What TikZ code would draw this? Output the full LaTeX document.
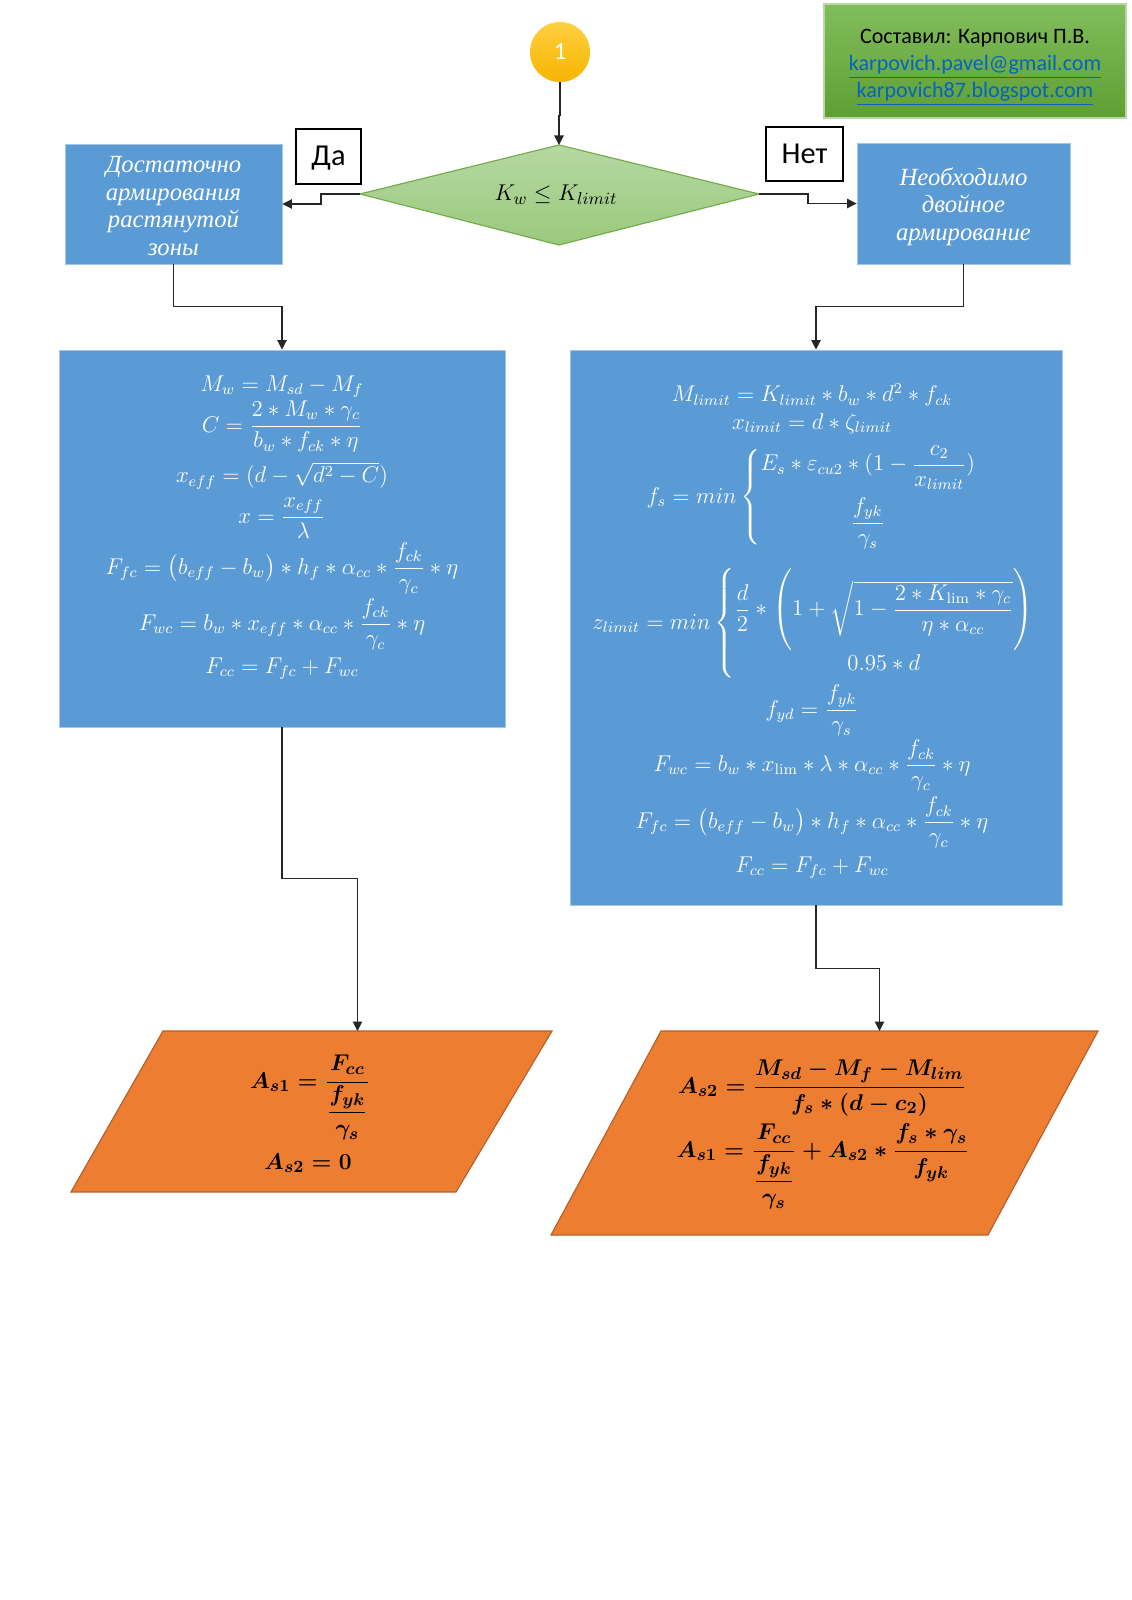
\documentclass[tikz,border=0pt]{standalone}
\usepackage{amsmath}
\usepackage{fontspec}
\newfontfamily\cyrserif{Liberation Serif}
\newfontfamily\calibri{Carlito}
\usetikzlibrary{arrows.meta,fit,calc}
\definecolor{oblue}{HTML}{5B9BD5}
\definecolor{obluebd}{HTML}{A4C6E8}
\definecolor{oorange}{HTML}{ED7D31}
\definecolor{oorangebd}{HTML}{B5602A}
\definecolor{dgtop}{HTML}{B6D8A3}
\definecolor{dgbot}{HTML}{9AC97C}
\definecolor{dgbd}{HTML}{70AD47}
\definecolor{agtop}{HTML}{82BD5C}
\definecolor{agbot}{HTML}{5E9F34}
\definecolor{agbd}{HTML}{B9D6A4}
\definecolor{ctop}{HTML}{FFD040}
\definecolor{cbot}{HTML}{F7B400}
\definecolor{linkblue}{HTML}{0563C1}
\definecolor{linecol}{HTML}{262626}
\begin{document}
\begin{tikzpicture}[x=0.5263pt,y=-0.5263pt,
  conn/.style={draw=linecol,line width=0.55pt,-{Triangle[length=5pt,width=5pt]}},
  bluebox/.style={inner sep=0pt,fill=oblue,draw=obluebd,line width=0.5pt},
  cyrtext/.style={text=white,align=center,inner sep=0pt,font=\cyrserif\itshape\fontsize{13}{14.5}\selectfont},
  labbox/.style={inner sep=0pt,fill=white,draw=black,line width=1pt},
  labtext/.style={inner sep=0pt,font=\calibri\fontsize{16}{18}\selectfont},
  fw/.style={text=white,font=\fontsize{12}{14}\selectfont,inner sep=0pt,anchor=base},
  fb/.style={text=black,font=\fontsize{13}{15}\selectfont\boldmath,inner sep=0pt,anchor=base}]
\fill[white] (0,0) rectangle (1131,1600);
\useasboundingbox (0,0) rectangle (1131,1600);

% author box
\node[fit={(824,4)(1126,118)},inner sep=0pt,top color=agtop,bottom color=agbot,draw=agbd,line width=0.8pt] (auth) {};
\node[align=center,inner sep=0pt,font=\calibri\fontsize{11.6}{14.2}\selectfont] (autht) at ($(auth.center)+(0,7)$)
  {Составил: Карпович П.В.\\{\color{linkblue}\underline{karpovich.pavel@gmail.com}}\\{\color{linkblue}\underline{karpovich87.blogspot.com}}};

% start circle
\node[circle,minimum size=31.6pt,inner sep=0pt,top color=ctop,bottom color=cbot,text=white,
  font=\calibri\fontsize{13}{15}\selectfont] (c) at (560,52) {1};

% diamond
\coordinate (dT) at (559,145);
\coordinate (dB) at (559,245);
\coordinate (dL) at (360,194);
\coordinate (dR) at (759,194);
\path[top color=dgtop,bottom color=dgbot,draw=dgbd,line width=0.6pt] (dT) -- (dR) -- (dB) -- (dL) -- cycle;
\node[font=\fontsize{12.3}{14}\selectfont,inner sep=0pt] (dtext) at (556,195) {$K_w \leq K_{limit}$};

% yes / no labels
\node[labbox,fit={(296,129)(361,184)}] (yes) {};
\node[labtext] (yest) at ($(yes.center)+(0,2)$) {Да};
\node[labbox,fit={(766,127)(843,181)}] (no) {};
\node[labtext] (not) at (no.center) {Нет};

% small blue boxes
\node[bluebox,fit={(65,144)(282,264)}] (b1) {};
\node[cyrtext] (b1t) at ($(b1.center)+(0,2)$) {Достаточно\\армирования\\растянутой\\зоны};
\node[bluebox,fit={(857,143)(1070,264)}] (b2) {};
\node[cyrtext] (b2t) at ($(b2.center)+(0,3)$) {Необходимо\\двойное\\армирование};

% big blue boxes
\node[bluebox,fit={(59,350)(505,727)}] (f1) {};
\node[bluebox,fit={(570,350)(1062,905)}] (f2) {};

% left formulas
\node[fw] (l1) at (282,391) {$M_w = M_{sd} - M_f$};
\node[fw] (l2) at (282,432) {$C = \dfrac{2*M_w*\gamma_c}{b_w*f_{ck}*\eta}$};
\node[fw] (l3) at (282,483) {$x_{eff} = (d - \sqrt{d^2 - C})$};
\node[fw] (l4) at (282,523) {$x = \dfrac{x_{eff}}{\lambda}$};
\node[fw] (l5) at (282,574) {$F_{fc} = \bigl(b_{eff} - b_w\bigr) * h_f * \alpha_{cc} * \dfrac{f_{ck}}{\gamma_c} * \eta$};
\node[fw] (l6) at (282,630) {$F_{wc} = b_w * x_{eff} * \alpha_{cc} * \dfrac{f_{ck}}{\gamma_c} * \eta$};
\node[fw] (l7) at (282,673) {$F_{cc} = F_{fc} + F_{wc}$};

% right formulas
\node[fw] (r1) at (812,402) {$M_{limit} = K_{limit} * b_w * d^2 * f_{ck}$};
\node[fw] (r2) at (812,429) {$x_{limit} = d * \zeta_{limit}$};
\node[fw] (r3) at (812,503) {$f_s = min\left\{\begin{array}{@{}c@{}} E_s*\varepsilon_{cu2}*(1-\dfrac{c_2}{x_{limit}}) \\[10pt] \dfrac{f_{yk}}{\gamma_s}\end{array}\right.$};
\node[fw] (r4) at (814,629) {$z_{limit} = min\left\{\begin{array}{@{}c@{}} \dfrac{d}{2}*\left(\vrule height 25pt depth 19pt width 0pt 1+\sqrt{1-\dfrac{2*K_{\mathrm{lim}}*\gamma_c}{\eta*\alpha_{cc}}}\right) \\[1pt] 0.95*d\end{array}\right.$};
\node[fw] (r5) at (812,716) {$f_{yd} = \dfrac{f_{yk}}{\gamma_s}$};
\node[fw] (r6) at (812,771) {$F_{wc} = b_w * x_{\mathrm{lim}} * \lambda * \alpha_{cc} * \dfrac{f_{ck}}{\gamma_c} * \eta$};
\node[fw] (r7) at (812,828) {$F_{fc} = \bigl(b_{eff} - b_w\bigr) * h_f * \alpha_{cc} * \dfrac{f_{ck}}{\gamma_c} * \eta$};
\node[fw] (r8) at (812,872) {$F_{cc} = F_{fc} + F_{wc}$};

% parallelograms
\path[fill=oorange,draw=oorangebd,line width=0.6pt] (163,1031) -- (552,1031) -- (456,1192) -- (71,1192) -- cycle;
\coordinate (p1top) at (357.5,1031);
\path[fill=oorange,draw=oorangebd,line width=0.6pt] (661,1031) -- (1098,1031) -- (988,1235) -- (551,1235) -- cycle;
\coordinate (p2top) at (879.5,1031);

\node[fb] (o1) at (310,1088) {$A_{s1} = \dfrac{F_{cc}}{\dfrac{f_{yk}}{\gamma_s}}$};
\node[fb] (o2) at (308,1169) {$A_{s2} = 0$};
\node[fb] (o3) at (822,1093) {$A_{s2} = \dfrac{M_{sd} - M_f - M_{lim}}{f_s * (d - c_2)}$};
\node[fb] (o4) at (823,1157) {$A_{s1} = \dfrac{F_{cc}}{\dfrac{f_{yk}}{\gamma_s}} + A_{s2} * \dfrac{f_s*\gamma_s}{f_{yk}}$};

% connectors
\draw[conn] (c.south) -- ++(0,33) -| (dT);
\draw[conn] (dL) -- ++(-39,0) |- (b1.east);
\draw[conn] (dR) -- ++(49,0) |- (b2.west);
\draw[conn] (b1.south) -- ++(0,42) -| (f1.north);
\draw[conn] (b2.south) -- ++(0,42) -| (f2.north);
\draw[conn] (f1.south) -- ++(0,151) -| (p1top);
\draw[conn] (f2.south) -- ++(0,63) -| (p2top);
\end{tikzpicture}
\end{document}
